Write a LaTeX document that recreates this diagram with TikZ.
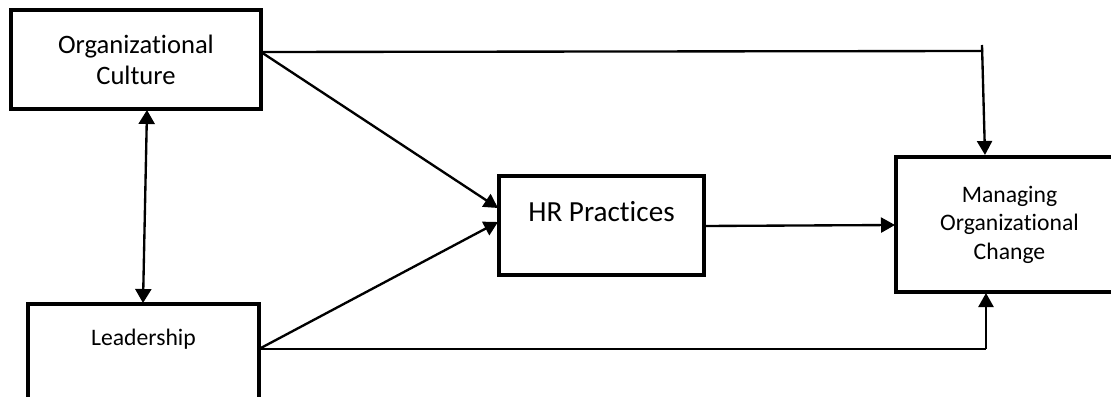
\documentclass[tikz,border=0pt]{standalone}
\usepackage{fontspec}
\setmainfont{Carlito}[Ligatures=NoCommon]
\usetikzlibrary{arrows.meta,positioning}

\begin{document}
\begin{tikzpicture}[x=0.03cm, y=-0.03cm, line width=2pt,
  box/.style = {draw, rectangle, line width=3pt, inner sep=0pt, align=center},
  arr/.style = {-{Triangle[length=0.42cm,width=0.45cm]}},
  dbl/.style = {{Triangle[length=0.42cm,width=0.48cm]}-{Triangle[length=0.42cm,width=0.48cm]}}]
  \clip (0,0) rectangle (1111,397);
  \node[box, minimum width=7.5cm, minimum height=2.97cm, font=\fontsize{22.7}{26.5}\selectfont] (culture) at (136,59.5) {Organizational\\Culture};
  \node[box, minimum width=6.93cm, minimum height=3.78cm] (lead) at (143.5,367) {};
  \node[font=\fontsize{20.2}{24}\selectfont] (leadtxt) at (143.5,339) {Leadership};
  \node[box, minimum width=6.15cm, minimum height=2.97cm] (hr) at (601.5,225.5) {};
  \node[font=\fontsize{24.9}{29}\selectfont] (hrtxt) at (601.5,212) {HR Practices};
  \node[box, minimum width=6.81cm, minimum height=4.05cm, font=\fontsize{20.2}{24.3}\selectfont] (moc) at (1009.5,224.5) {Managing\\Organizational\\Change};
  % connector points
  \coordinate (cultout) at (261,52);
  \coordinate (topcorner) at (983,51);
  \coordinate (toptick) at (982,45);
  \coordinate (mocin1) at (985,155);
  \coordinate (hrin1) at (498,208);
  \coordinate (leadout) at (259,349);
  \coordinate (hrin2) at (498,222);
  \coordinate (botcorner) at (986,349);
  \coordinate (mocin2) at (986,293);
  \coordinate (hrout) at (704,226);
  \coordinate (mocin3) at (895,225);
  \coordinate (cultbot) at (147,110);
  \coordinate (leadtop) at (143,303);
  \draw (cultout) -- (topcorner);
  \draw[arr] (toptick) -- (mocin1);
  \draw[arr] (cultout) -- (hrin1);
  \draw[arr] (leadout) -- (hrin2);
  \draw (leadout) -- (botcorner);
  \draw[arr] (botcorner) -- (mocin2);
  \draw[arr] (hrout) -- (mocin3);
  \draw[dbl] (cultbot) -- (leadtop);
\end{tikzpicture}
\end{document}
